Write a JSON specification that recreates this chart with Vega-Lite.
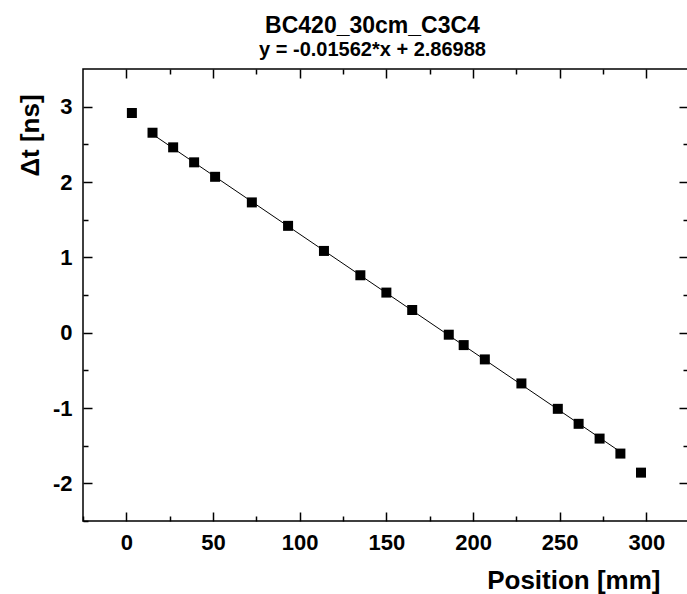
{
  "$schema": "https://vega.github.io/schema/vega-lite/v6.json",
  "autosize": {"type": "none"},
  "width": 605,
  "height": 452,
  "padding": {"left": 83, "top": 69, "right": -1, "bottom": 73},
  "background": "white",
  "config": {
    "view": {"stroke": "black", "strokeWidth": 1.5},
    "font": "Liberation Sans",
    "axis": {
      "domain": false,
      "grid": false,
      "tickColor": "black",
      "tickWidth": 1.5,
      "labelColor": "black",
      "labelFont": "Liberation Sans",
      "labelFontWeight": "bold",
      "labelFontSize": 22,
      "titleColor": "black",
      "titleFont": "Liberation Sans",
      "titleFontWeight": "bold",
      "titleFontSize": 26
    }
  },
  "title": {
    "text": "BC420_30cm_C3C4",
    "subtitle": "y = -0.01562*x + 2.86988",
    "font": "Liberation Sans",
    "subtitleFont": "Liberation Sans",
    "fontSize": 23,
    "subtitleFontSize": 20,
    "fontWeight": "bold",
    "subtitleFontWeight": "bold",
    "color": "black",
    "subtitleColor": "black",
    "anchor": "middle",
    "dx": -13,
    "offset": 8,
    "subtitlePadding": 2
  },
  "datasets": {
    "pts": [
      {"position": 3.2, "dt": 2.916},
      {"position": 15.1, "dt": 2.654},
      {"position": 27.0, "dt": 2.46},
      {"position": 39.1, "dt": 2.261},
      {"position": 51.2, "dt": 2.069},
      {"position": 72.4, "dt": 1.729},
      {"position": 93.3, "dt": 1.418},
      {"position": 114.0, "dt": 1.085},
      {"position": 135.0, "dt": 0.762},
      {"position": 150.0, "dt": 0.532},
      {"position": 164.9, "dt": 0.301},
      {"position": 186.0, "dt": -0.027},
      {"position": 194.6, "dt": -0.165},
      {"position": 206.8, "dt": -0.355},
      {"position": 227.9, "dt": -0.674},
      {"position": 248.9, "dt": -1.011},
      {"position": 260.9, "dt": -1.21},
      {"position": 273.0, "dt": -1.406},
      {"position": 285.0, "dt": -1.605},
      {"position": 296.9, "dt": -1.858}
    ],
    "fit": [
      {"position": 15.1, "dt": 2.634},
      {"position": 285.0, "dt": -1.582}
    ]
  },
  "layer": [
    {
      "data": {"name": "fit"},
      "mark": {"type": "line", "color": "black", "strokeWidth": 1},
      "encoding": {
        "x": {
          "field": "position", "type": "quantitative",
          "scale": {"domain": [-25, 324], "nice": false, "zero": false},
          "axis": {
            "orient": "bottom",
            "values": [0, 50, 100, 150, 200, 250, 300],
            "tickSize": -9,
            "labelPadding": 20,
            "labelExpr": "'' + datum.value",
            "title": "Position [mm]",
            "titleX": 577,
            "titleY": 67,
            "titleAlign": "right",
            "titleBaseline": "alphabetic"
          }
        },
        "y": {
          "field": "dt", "type": "quantitative",
          "scale": {"domain": [-2.5, 3.5], "nice": false, "zero": false},
          "axis": {
            "orient": "left",
            "values": [-2, -1, 0, 1, 2, 3],
            "tickSize": -9,
            "labelPadding": 20,
            "labelExpr": "'' + datum.value",
            "title": "Δt [ns]",
            "titleX": -53,
            "titleY": 66,
            "titleAlign": "center",
            "titleBaseline": "middle",
            "titleAngle": -90
          }
        }
      }
    },
    {
      "data": {"name": "pts"},
      "mark": {"type": "square", "size": 100, "color": "black", "opacity": 1},
      "encoding": {
        "x": {
          "field": "position", "type": "quantitative",
          "scale": {"domain": [-25, 324], "nice": false, "zero": false},
          "axis": {"orient": "top", "values": [0, 50, 100, 150, 200, 250, 300], "tickSize": -9, "labels": false, "title": null}
        },
        "y": {
          "field": "dt", "type": "quantitative",
          "scale": {"domain": [-2.5, 3.5], "nice": false, "zero": false},
          "axis": {"orient": "right", "values": [-2, -1, 0, 1, 2, 3], "tickSize": -9, "labels": false, "title": null}
        }
      }
    },
    {
      "data": {"name": "pts"},
      "mark": {"type": "square", "size": 100, "color": "black", "opacity": 0},
      "encoding": {
        "x": {
          "field": "position", "type": "quantitative",
          "scale": {"domain": [-25, 324], "nice": false, "zero": false},
          "axis": {"orient": "bottom", "values": [-25, 25, 75, 125, 175, 225, 275], "tickSize": -5, "labels": false, "title": null}
        },
        "y": {
          "field": "dt", "type": "quantitative",
          "scale": {"domain": [-2.5, 3.5], "nice": false, "zero": false},
          "axis": {"orient": "left", "values": [-2.5, -1.5, -0.5, 0.5, 1.5, 2.5], "tickSize": -5, "labels": false, "title": null}
        }
      }
    },
    {
      "data": {"name": "pts"},
      "mark": {"type": "square", "size": 100, "color": "black", "opacity": 0},
      "encoding": {
        "x": {
          "field": "position", "type": "quantitative",
          "scale": {"domain": [-25, 324], "nice": false, "zero": false},
          "axis": {"orient": "top", "values": [25, 75, 125, 175, 225, 275], "tickSize": -5, "labels": false, "title": null}
        },
        "y": {
          "field": "dt", "type": "quantitative",
          "scale": {"domain": [-2.5, 3.5], "nice": false, "zero": false},
          "axis": {"orient": "right", "values": [-1.5, -0.5, 0.5, 1.5, 2.5], "tickSize": -5, "labels": false, "title": null}
        }
      }
    }
  ],
  "resolve": {"axis": {"x": "independent", "y": "independent"}}
}
